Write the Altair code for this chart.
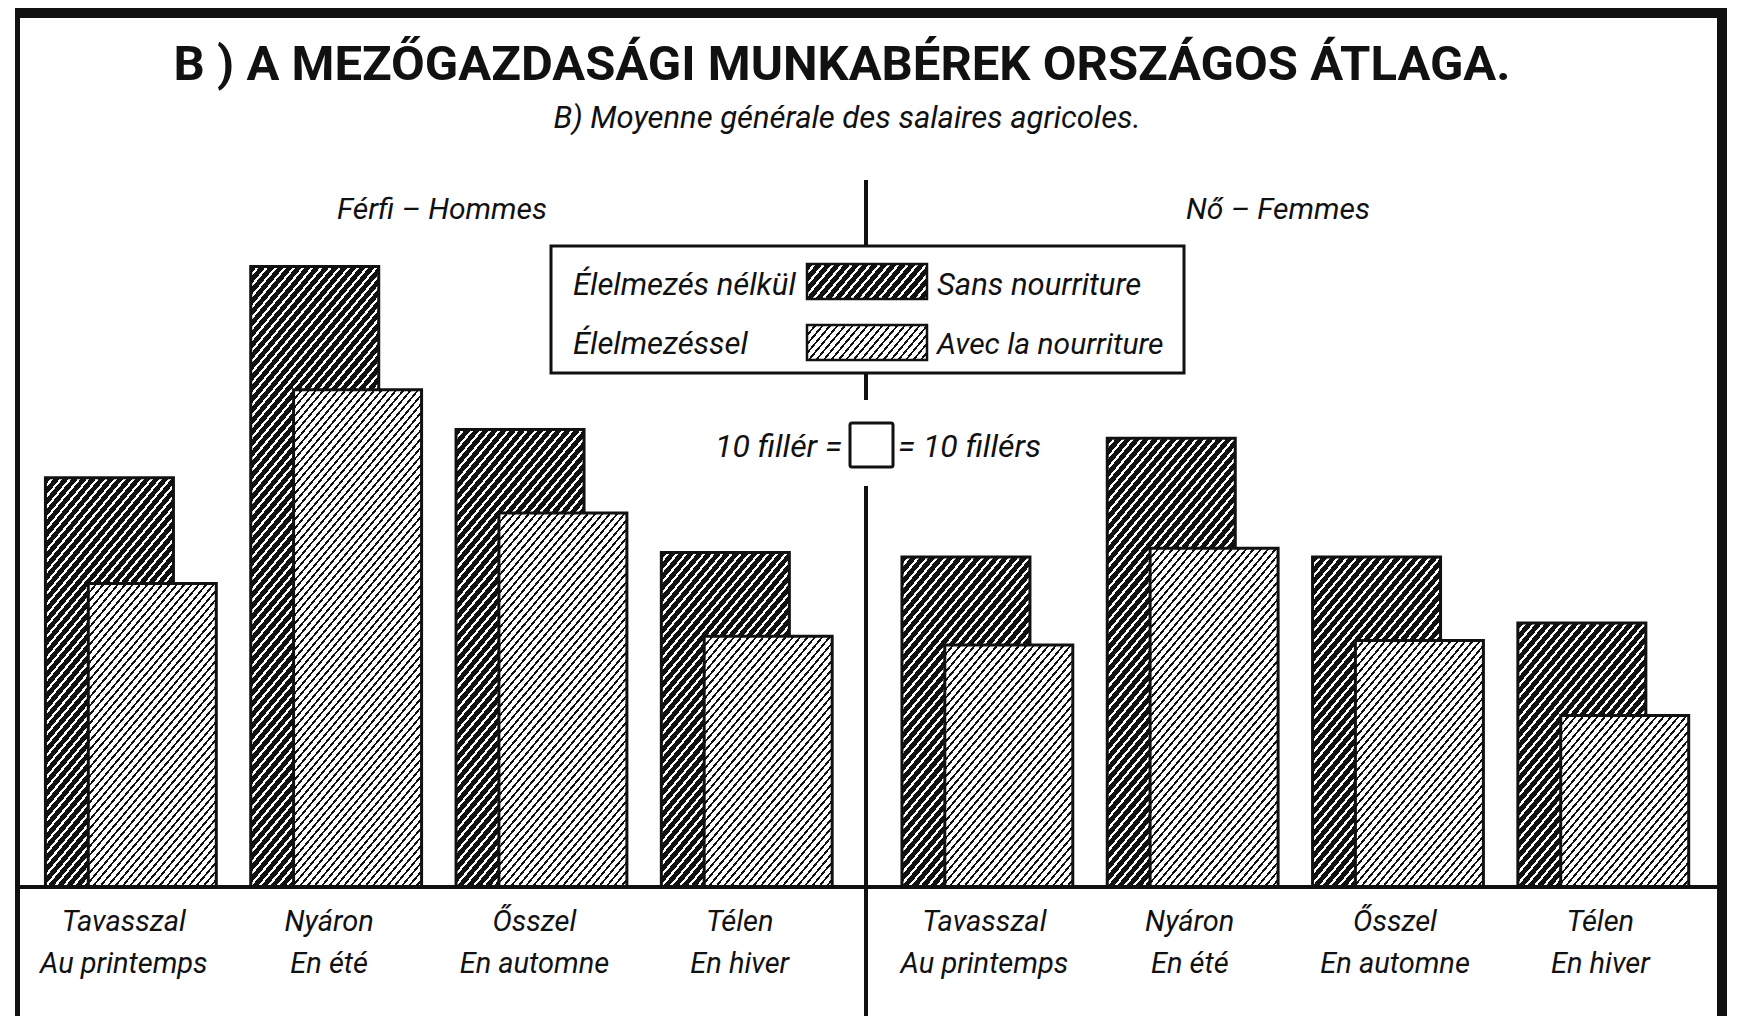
import math
import altair as alt
import pandas as pd

# ---------------- data (fillér) ----------------
panels = ["Férfi", "Nő"]
panel_titles = ["Férfi – Hommes", "Nő – Femmes"]
seasons_hu = ["Tavasszal", "Nyáron", "Ősszel", "Télen"]
seasons_fr = ["Au printemps", "En été", "En automne", "En hiver"]
series_hu = ["Élelmezés nélkül", "Élelmezéssel"]
series_fr = ["Sans nourriture", "Avec la nourriture"]

men_without_food = [93, 141, 104, 76]
men_with_food = [69, 113, 85, 57]
women_without_food = [75, 102, 75, 60]
women_with_food = [55, 77, 56, 39]

title_text = "B ) A MEZŐGAZDASÁGI MUNKABÉREK ORSZÁGOS ÁTLAGA."
subtitle_text = "B) Moyenne générale des salaires agricoles."
unit_left = "10 fillér ="
unit_right = "= 10 fillérs"

values = [[men_without_food, men_with_food], [women_without_food, women_with_food]]
rows = []
for pi, p in enumerate(panels):
    for si, s in enumerate(seasons_hu):
        for ki, k in enumerate(series_hu):
            rows.append(dict(panel=p, pi=pi, season=s, fr=seasons_fr[si], si=si,
                             series=k, ki=ki, value=values[pi][ki][si]))
df = pd.DataFrame(rows)
labels_df = pd.DataFrame([dict(pi=pi, si=si, hu=seasons_hu[si], fr=seasons_fr[si])
                          for pi in range(2) for si in range(4)])

# ---------------- layout / styles ----------------
W, H = 1722, 1008
PX_PER_UNIT = 4.4
Y0 = 879  # pixel of value 0
y_lo = -(H - Y0) / PX_PER_UNIT
y_hi = y_lo + H / PX_PER_UNIT
STEP = 206.5
x_lo = -97 / STEP
x_hi = x_lo + W / STEP
xscale = alt.Scale(domain=[x_lo, x_hi], nice=False, zero=False)
yscale = alt.Scale(domain=[y_lo, y_hi], nice=False, zero=False)
SLOT = "datum.si + datum.pi * 4.172 + datum.ki * 0.2087"
LABEL_SLOT = "datum.si + datum.pi * 4.172 + 0.07 + datum.pi * 0.02"
BAR_W = 128
FONT = "Roboto"


def hatch(w, h, period, frac, angle=50):
    th = math.radians(angle)
    s, c = math.sin(th), math.cos(th)
    M = w * s + h * c
    den = (w * s) ** 2 + (h * c) ** 2
    k = M / den
    gx, gy = k * w * s, k * h * c
    n = max(1, int(round(M / period)))
    stops = []
    for i in range(n):
        a, b, e = i / n, (i + frac) / n, (i + 1) / n
        stops += [dict(offset=round(a, 5), color="#111111"),
                  dict(offset=round(b, 5), color="#111111"),
                  dict(offset=round(b, 5), color="#ffffff"),
                  dict(offset=round(e, 5), color="#ffffff")]
    return dict(gradient="linear", x1=0, y1=0, x2=round(gx, 5), y2=round(gy, 5), stops=stops)


HATCH = {0: (7.0, 0.68), 1: (5.6, 0.32)}

layers = []
one = pd.DataFrame({"d": [0]})


def txt(text, x, y, size, align="left", baseline="alphabetic", style="italic", weight="normal"):
    return alt.Chart(one).mark_text(text=text, font=FONT, fontSize=size, fontStyle=style,
                                    fontWeight=weight, align=align, baseline=baseline,
                                    color="#111111").encode(x=alt.value(x), y=alt.value(y))


def rule(x, x2, y, y2, w):
    return alt.Chart(one).mark_rule(color="#111111", strokeWidth=w).encode(
        x=alt.value(x), x2=alt.value(x2), y=alt.value(y), y2=alt.value(y2))


# frame
layers += [rule(7, 1719, 5, 5, 10), rule(9.5, 9.5, 0, H, 5), rule(1714, 1714, 0, H, 10)]
# divider
layers += [rule(858, 858, 172, 238, 4), rule(858, 858, 365, 392, 4), rule(858, 858, 478, H, 4)]

# bars
for pi in range(2):
    for si in range(4):
        for ki in range(2):
            v = values[pi][ki][si]
            per, frac = HATCH[ki]
            g = hatch(BAR_W, v * PX_PER_UNIT, per, frac)
            layers.append(
                alt.Chart(df).transform_filter(
                    f"datum.pi == {pi} && datum.si == {si} && datum.ki == {ki}"
                ).transform_calculate(slot=SLOT).mark_bar(
                    width=BAR_W, fill=g, stroke="#111111", strokeWidth=3
                ).encode(
                    x=alt.X("slot:Q", scale=xscale, axis=None),
                    y=alt.Y("value:Q", scale=yscale, axis=None),
                )
            )

# baseline
layers.append(alt.Chart(one).mark_rule(color="#111111", strokeWidth=4).encode(
    x=alt.value(9.5), x2=alt.value(1714), y=alt.datum(0, scale=yscale)))

# category labels
for field, ypos in (("hu", 923), ("fr", 965)):
    layers.append(alt.Chart(labels_df).transform_calculate(slot=LABEL_SLOT).mark_text(
        font=FONT, fontSize=29, fontStyle="italic", align="center", baseline="alphabetic",
        color="#111111").encode(
        x=alt.X("slot:Q", scale=xscale, axis=None), y=alt.value(ypos), text=f"{field}:N"))

# titles
layers.append(txt(title_text, 834, 72, 49, align="center", style="normal", weight="bold"))
layers.append(txt(subtitle_text, 839, 120, 31, align="center"))
layers.append(txt(panel_titles[0], 434, 211, 30, align="center"))
layers.append(txt(panel_titles[1], 1270, 211, 30, align="center"))

# legend box
layers.append(alt.Chart(one).mark_rect(fill="white", stroke="#111111", strokeWidth=3).encode(
    x=alt.value(543), x2=alt.value(1176), y=alt.value(238), y2=alt.value(365)))
for ki, (yc, ytop) in enumerate(((278, 256), (337, 317))):
    per, frac = HATCH[ki]
    layers.append(alt.Chart(one).mark_rect(fill=hatch(120, 35, per, frac), stroke="#111111",
                                           strokeWidth=2.5).encode(
        x=alt.value(799), x2=alt.value(919), y=alt.value(ytop), y2=alt.value(ytop + 35)))
    layers.append(txt(series_hu[ki], 565, yc, 31, baseline="middle"))
    layers.append(txt(series_fr[ki], 929, yc, 31 if ki == 0 else 30, baseline="middle"))

# unit square
layers.append(alt.Chart(one).mark_rect(fill="white", stroke="#111111", strokeWidth=3,
                                       cornerRadius=2).encode(
    x=alt.value(842), x2=alt.value(885), y=alt.value(415), y2=alt.value(459)))
layers.append(txt(unit_left, 834, 439, 32, align="right", baseline="middle"))
layers.append(txt(unit_right, 890, 439, 32, align="left", baseline="middle"))

chart = alt.layer(*layers).properties(
    width=W, height=H, autosize=alt.AutoSizeParams(type="none"), padding=0, background="white"
).configure_view(stroke=None)

chart.save("out.html", embed_options={"renderer": "svg", "actions": False})
